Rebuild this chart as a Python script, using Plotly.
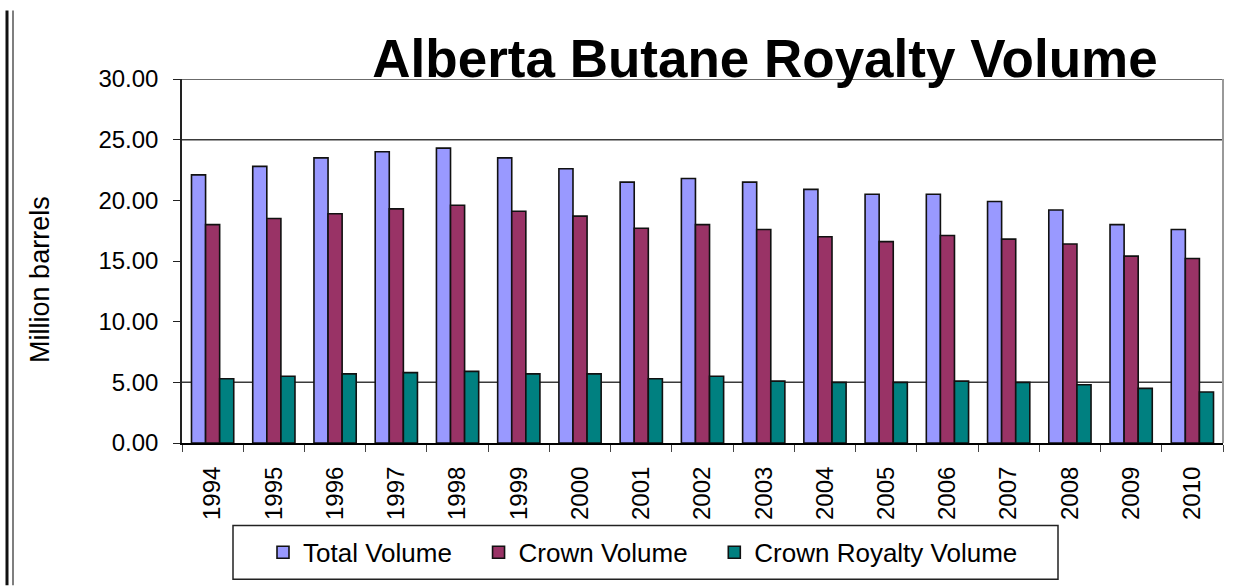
import plotly.graph_objects as go

# data (million barrels)
years = [str(y) for y in range(1994, 2011)]
total_volume = [22.1, 22.8, 23.5, 24.0, 24.3, 23.5, 22.6, 21.5, 21.8, 21.5,
                20.9, 20.5, 20.5, 19.9, 19.2, 18.0, 17.6]
crown_volume = [18.0, 18.5, 18.9, 19.3, 19.6, 19.1, 18.7, 17.7, 18.0, 17.6,
                17.0, 16.6, 17.1, 16.8, 16.4, 15.4, 15.2]
royalty_volume = [5.3, 5.5, 5.7, 5.8, 5.9, 5.7, 5.7, 5.3, 5.5, 5.1,
                  5.0, 5.0, 5.1, 5.0, 4.8, 4.5, 4.2]
y_ticks = [0, 5, 10, 15, 20, 25, 30]
grid_levels = [5, 25, 30]

FONT = "Liberation Sans, Arial, sans-serif"
W, H = 1254, 588
L, R, T, B = 182, 31, 79, 143
pw = W - L - R
ph = H - T - B
NB = "\u00a0"


def px_x(px):
    # page pixel -> paper x
    return (px - L) / pw


def px_y(py):
    # page pixel -> paper y
    return (H - B - py) / ph


fig = go.Figure()
series = [
    ("Total Volume", total_volume, "#9999FF", 3),
    ("Crown Volume", crown_volume, "#993366", 3),
    ("Crown Royalty Volume", royalty_volume, "#008080", 0),
]
for name, vals, color, pad in series:
    fig.add_trace(go.Bar(
        x=years, y=vals, name=name + NB * pad,
        marker=dict(color=color, line=dict(color="#111111", width=1.6)),
    ))

# gridlines only at the levels shown in the original
for lv in grid_levels:
    fig.add_shape(type="line", xref="paper", yref="y", x0=0, x1=1, y0=lv, y1=lv,
                  line=dict(color="#3a3a3a", width=1.5), layer="below")

# right frame of the plot area
fig.add_shape(type="line", xref="paper", yref="paper", x0=1, x1=1, y0=0, y1=1,
              line=dict(color="#999999", width=2))

# page border lines on the far left
for px, col, wd in [(7, "#111111", 3), (13, "#555555", 1.5)]:
    fig.add_shape(type="line", xref="paper", yref="paper", x0=px_x(px), x1=px_x(px),
                  y0=px_y(H), y1=px_y(10), line=dict(color=col, width=wd))

# legend frame
fig.add_shape(type="rect", xref="paper", yref="paper",
              x0=px_x(233), x1=px_x(1058), y0=px_y(582), y1=px_y(528),
              line=dict(color="#222222", width=1.5), fillcolor="white", layer="below")

fig.add_annotation(text="Million barrels", xref="paper", yref="paper",
                   x=px_x(40), y=px_y(281), xanchor="center", yanchor="middle",
                   textangle=-90, showarrow=False,
                   font=dict(size=27, family=FONT, color="black"))

fig.update_layout(
    width=W, height=H,
    margin=dict(l=L, r=R, t=T, b=B),
    paper_bgcolor="white", plot_bgcolor="white",
    font=dict(family=FONT, color="black"),
    barmode="group", bargap=0.31, bargroupgap=0,
    title=dict(text="<b>Alberta Butane Royalty Volume</b>",
               font=dict(size=53, family=FONT, color="black"),
               x=765 / W, xanchor="center", y=1 - 58 / H, yanchor="middle"),
    legend=dict(orientation="h", x=px_x(263), xanchor="left",
                y=px_y(555), yanchor="middle",
                font=dict(size=26, family=FONT),
                borderwidth=0, bgcolor="rgba(0,0,0,0)",
                traceorder="normal"),
    showlegend=True,
)

fig.update_xaxes(
    type="category", tickangle=-90, tickfont=dict(size=24, family=FONT),
    showline=True, linecolor="black", linewidth=2,
    ticks="outside", ticklen=7, tickcolor="#444444", tickson="boundaries",
    ticklabelstandoff=12, showgrid=False,
)
fig.update_yaxes(
    range=[0, 30], tickvals=y_ticks, tickformat=".2f",
    tickfont=dict(size=24, family=FONT),
    showline=True, linecolor="#222222", linewidth=1.5,
    ticks="outside", ticklen=7, tickcolor="#222222",
    ticklabelstandoff=10, showgrid=False, zeroline=False,
)

fig.write_html("out.html", config={"displayModeBar": False},
               post_script="document.body.style.margin='0';")
